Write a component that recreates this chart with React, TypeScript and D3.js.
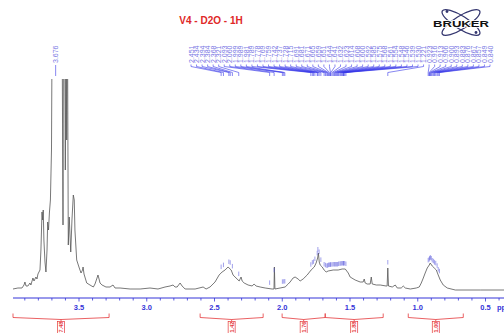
import React, { useEffect, useRef } from 'react';
import * as d3 from 'd3';

// 1H spectrum: [ppm, intensity] (intensity > 210 runs off the top)
const spectrum: [number, number][] = [
  [3.987, 0], [3.951, 1], [3.921, 1], [3.906, 4], [3.899, 7], [3.891, 3], [3.877, 3], [3.862, 6],
  [3.855, 4], [3.840, 11], [3.832, 8], [3.818, 12], [3.810, 10], [3.803, 15], [3.788, 19], [3.781, 39],
  [3.773, 77], [3.768, 69], [3.764, 79], [3.759, 49], [3.751, 27], [3.744, 17], [3.736, 39], [3.731, 67],
  [3.725, 59], [3.718, 77], [3.711, 89], [3.703, 139], [3.697, 300], [3.677, 300], [3.655, 300], [3.626, 300],
  [3.618, 64], [3.614, 300], [3.607, 300], [3.601, 119], [3.596, 300], [3.591, 149], [3.586, 300], [3.579, 44],
  [3.572, 72], [3.561, 37], [3.552, 69], [3.542, 94], [3.535, 89], [3.530, 59], [3.517, 29], [3.498, 21],
  [3.485, 16], [3.474, 19], [3.470, 22], [3.463, 15], [3.443, 6], [3.419, 4], [3.394, 2], [3.382, 5],
  [3.367, 11], [3.360, 14], [3.352, 10], [3.345, 6], [3.330, 4], [3.301, 2], [3.271, 2], [3.249, 4],
  [3.234, 1], [3.197, 1], [3.123, 0], [3.049, 0], [2.976, 1], [2.917, 0], [2.865, 2], [2.828, 3],
  [2.806, 4], [2.791, 2], [2.776, 2], [2.754, 6], [2.739, 3], [2.717, 0], [2.643, 0], [2.584, 2],
  [2.562, 0], [2.533, 2], [2.496, 7], [2.466, 14], [2.444, 17], [2.422, 19], [2.400, 22], [2.377, 19],
  [2.363, 14], [2.341, 11], [2.318, 8], [2.304, 12], [2.296, 8], [2.281, 6], [2.252, 4], [2.222, 3],
  [2.208, 5], [2.193, 3], [2.163, 2], [2.126, 1], [2.075, 0], [2.061, 0], [2.058, 22], [2.054, 0],
  [2.016, 1], [1.979, 2], [1.956, 5], [1.942, 7], [1.920, 11], [1.905, 12], [1.883, 10], [1.868, 8],
  [1.846, 10], [1.816, 14], [1.787, 19], [1.764, 22], [1.750, 26], [1.739, 31], [1.733, 36], [1.727, 27],
  [1.720, 24], [1.705, 22], [1.691, 19], [1.676, 17], [1.661, 18], [1.624, 19], [1.587, 19], [1.558, 20],
  [1.535, 20], [1.513, 16], [1.499, 12], [1.462, 9], [1.425, 7], [1.403, 7], [1.395, 10], [1.388, 6],
  [1.373, 5], [1.351, 5], [1.343, 12], [1.336, 5], [1.306, 4], [1.277, 4], [1.233, 3], [1.226, 3],
  [1.221, 21], [1.216, 3], [1.188, 2], [1.166, 4], [1.151, 1], [1.122, 1], [1.107, 3], [1.092, 1],
  [1.055, 0], [1.011, 1], [0.989, 2], [0.974, 6], [0.959, 11], [0.945, 16], [0.930, 21], [0.915, 24],
  [0.908, 26], [0.893, 23], [0.878, 21], [0.863, 19], [0.849, 14], [0.834, 9], [0.812, 4], [0.782, 1],
  [0.723, -1], [0.538, -1], [0.361, -1],
];

const mainPeak = 3.676;
const peakLabels = [
  2.451, 2.434, 2.394, 2.384, 2.368, 2.321, 2.093, 2.060, 1.999, 1.989, 1.981, 1.789, 1.778, 1.769,
  1.759, 1.742, 1.737, 1.728, 1.715, 1.691, 1.681, 1.671, 1.665, 1.659, 1.651, 1.644, 1.641, 1.632,
  1.623, 1.614, 1.608, 1.600, 1.592, 1.585, 1.575, 1.568, 1.561, 1.554, 1.548, 1.546, 1.539, 1.530,
  1.221, 0.923, 0.916, 0.913, 0.906, 0.900, 0.893, 0.883, 0.876, 0.867, 0.857, 0.849, 0.840,
];

const integralFrom = [3.987, 2.606, 2.001, 1.683, 1.070];
const integralTo = [3.278, 2.141, 1.683, 1.255, 0.664];
const integralValues = ['7.48', '1.42', '1.76', '1.88', '1.00'];

const majorTicks = [3.5, 3.0, 2.5, 2.0, 1.5, 1.0, 0.5];
const minorTicks = d3.range(39, 3, -1).map(v => v / 10);

const BLUE = '#3434d8';
const RED = '#e5383b';
const FONT = '"Liberation Sans", Arial, sans-serif';

export default function App() {
  const ref = useRef<SVGSVGElement>(null);

  useEffect(() => {
    const svg = d3.select(ref.current);
    svg.selectAll('*').remove();

    const x = d3.scaleLinear().domain([3.5, 0.5]).range([79, 485.5]);
    const y = d3.scaleLinear().domain([0, 210]).range([289, 79]);
    const axisY = 298;

    // title
    svg.append('text').attr('x', 211).attr('y', 24).attr('text-anchor', 'middle')
      .attr('font-family', FONT).attr('font-size', 10).attr('font-weight', 700)
      .attr('fill', '#e02828').text('V4 - D2O - 1H');

    // Bruker logo
    const logo = svg.append('g').attr('transform', 'translate(461,22.5)');
    [32, -32].forEach(a => {
      logo.append('ellipse').attr('rx', 22).attr('ry', 6.5).attr('transform', `rotate(${a})`)
        .attr('fill', 'none').attr('stroke', '#34366f').attr('stroke-width', 1.3);
    });
    logo.append('circle').attr('cx', -14).attr('cy', -11).attr('r', 1.4).attr('fill', '#34366f');
    logo.append('circle').attr('cx', 15).attr('cy', 10).attr('r', 1.4).attr('fill', '#34366f');
    logo.append('text').attr('x', -28).attr('y', 4.5).attr('textLength', 56).attr('lengthAdjust', 'spacingAndGlyphs')
      .attr('font-family', FONT).attr('font-size', 8.5).attr('font-weight', 700)
      .attr('fill', '#111').attr('stroke', '#fff').attr('stroke-width', 1.6).attr('paint-order', 'stroke')
      .text('BRUKER');

    // spectrum
    svg.append('clipPath').attr('id', 'specClip').append('rect')
      .attr('x', 0).attr('y', 79).attr('width', 504).attr('height', 215);
    const line = d3.line<[number, number]>().x(d => x(d[0])).y(d => y(d[1]));
    svg.append('path').datum(spectrum).attr('clip-path', 'url(#specClip)')
      .attr('fill', 'none').attr('stroke', '#555').attr('stroke-width', 0.8).attr('d', line);

    // intensity lookup for peak-pick markers
    const asc = [...spectrum].sort((a, b) => a[0] - b[0]);
    const bis = d3.bisector((d: [number, number]) => d[0]).left;
    const intensityAt = (p: number) => {
      const i = Math.max(1, Math.min(asc.length - 1, bis(asc, p)));
      const a = asc[i - 1], b = asc[i];
      const t = (p - a[0]) / (b[0] - a[0]);
      return Math.max(a[1], b[1]) * 0.4 + (a[1] + (b[1] - a[1]) * t) * 0.6;
    };

    // peak labels
    const lx = d3.scalePoint<number>().domain(d3.range(peakLabels.length)).range([191, 490]);
    const labels = svg.append('g');
    peakLabels.forEach((p, i) => {
      const xl = lx(i) as number;
      const xp = x(p);
      labels.append('text').attr('transform', `translate(${xl + 2.5},63) rotate(-90)`)
        .attr('font-family', FONT).attr('font-size', 7).attr('fill', '#7878e4').text(p.toFixed(3));
      labels.append('path').attr('d', `M${xl},64.5 L${xl},66.5 L${xp},72.5 L${xp},76`)
        .attr('fill', 'none').attr('stroke', '#3636e8').attr('stroke-width', 0.6);
      const yi = y(intensityAt(p));
      labels.append('line').attr('x1', xp).attr('x2', xp).attr('y1', yi - 8).attr('y2', yi - 3.5)
        .attr('stroke', '#6262dd').attr('stroke-width', 0.6);
    });
    const xm = x(mainPeak);
    labels.append('text').attr('transform', `translate(${xm + 2.5},63) rotate(-90)`)
      .attr('font-family', FONT).attr('font-size', 7).attr('fill', '#7878e4').text(mainPeak.toFixed(3));
    labels.append('line').attr('x1', xm + 0.5).attr('x2', xm + 0.5).attr('y1', 65).attr('y2', 76)
      .attr('stroke', '#3636e8').attr('stroke-width', 0.6);

    // axis
    const ax = svg.append('g');
    ax.append('line').attr('x1', 13).attr('x2', 504).attr('y1', axisY).attr('y2', axisY)
      .attr('stroke', BLUE).attr('stroke-width', 1);
    minorTicks.forEach(t => {
      const major = Math.abs(t * 2 - Math.round(t * 2)) < 1e-6;
      ax.append('line').attr('x1', x(t)).attr('x2', x(t)).attr('y1', axisY).attr('y2', axisY + (major ? 3.5 : 2.5))
        .attr('stroke', BLUE).attr('stroke-width', 0.8);
    });
    majorTicks.forEach(t => {
      ax.append('text').attr('x', x(t)).attr('y', 310).attr('text-anchor', 'middle')
        .attr('font-family', FONT).attr('font-size', 7.5).attr('font-weight', 700).attr('fill', BLUE)
        .text(t.toFixed(1));
    });
    ax.append('text').attr('x', 497).attr('y', 310)
      .attr('font-family', FONT).attr('font-size', 7.5).attr('font-weight', 700).attr('fill', BLUE).text('ppm');

    // integrals
    const integ = svg.append('g');
    integralValues.forEach((v, i) => {
      const x1 = x(integralFrom[i]);
      const x2 = x(integralTo[i]);
      const xc = (x1 + x2) / 2;
      integ.append('path').attr('d', `M${x1},313.5 L${x1},317.5 L${xc},319.5 L${x2},317.5 L${x2},313.5 M${xc},319.5 L${xc},321.5`)
        .attr('fill', 'none').attr('stroke', RED).attr('stroke-width', 0.8);
      integ.append('rect').attr('x', xc - 3.5).attr('y', 321.5).attr('width', 7).attr('height', 14)
        .attr('fill', '#fff').attr('stroke', RED).attr('stroke-width', 0.7);
      integ.append('text').attr('transform', `translate(${xc + 2.1},332.5) rotate(-90)`)
        .attr('font-family', FONT).attr('font-size', 5.6).attr('font-weight', 700).attr('fill', RED).text(v);
    });
  }, []);

  return <svg ref={ref} width={504} height={333} style={{ position: 'absolute', left: 0, top: 0, background: '#fff' }} />;
}
